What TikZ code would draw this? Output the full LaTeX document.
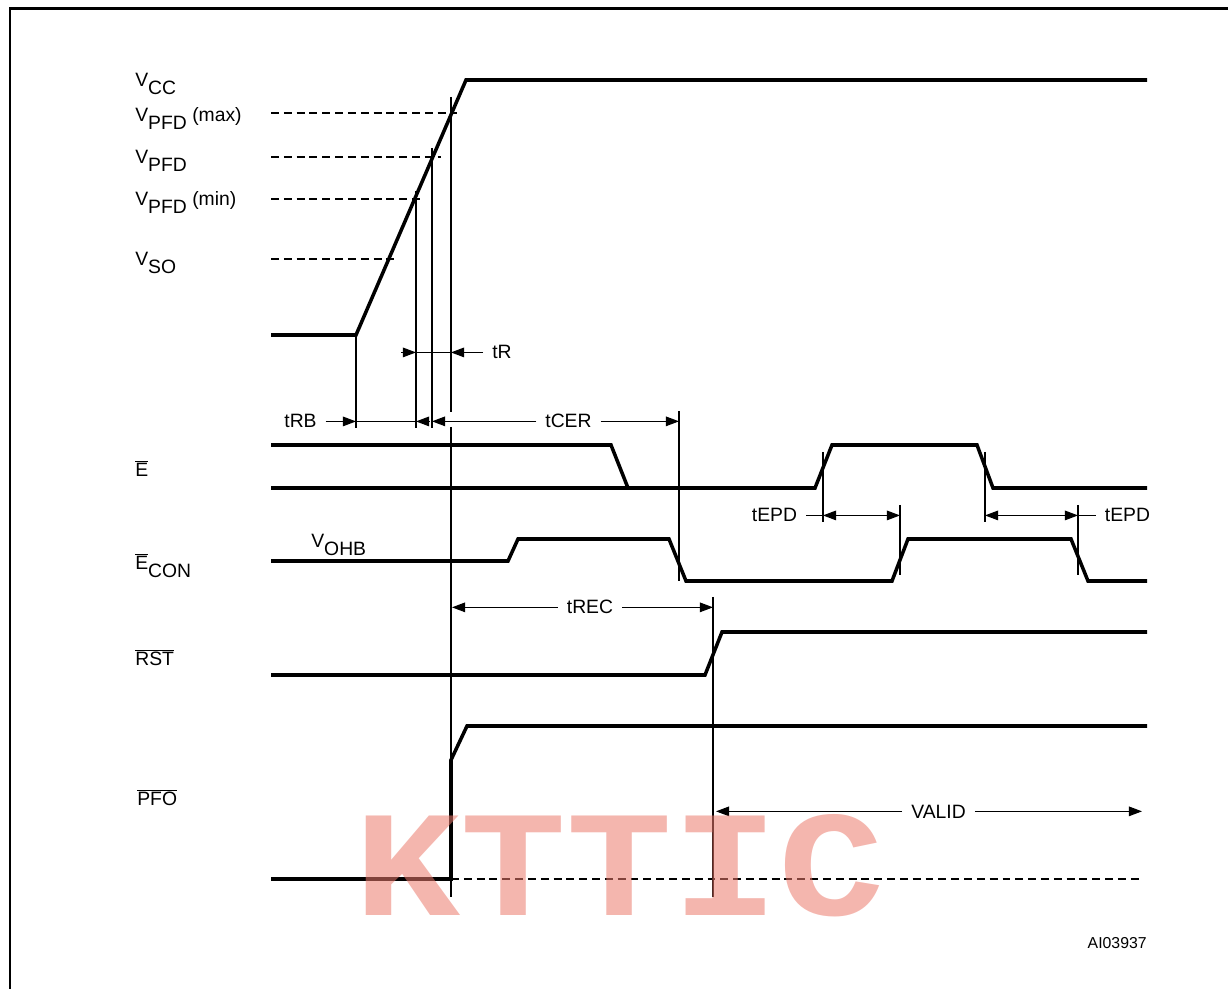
\documentclass[tikz,border=0pt]{standalone}
\usepackage{fontspec}
\setmainfont{Liberation Sans}
\setmonofont{Liberation Mono}
\usetikzlibrary{arrows.meta}

\newcommand{\sbs}[1]{\raisebox{-4pt}{#1}}
\newcommand{\ovl}[1]{$\overline{\mbox{#1}}$}
\definecolor{wmred}{RGB}{235,122,108}

\begin{document}
\begin{tikzpicture}[x=0.02cm,y=-0.02cm,
        sig/.style={line width=2pt},
        guide/.style={line width=0.6pt},
        lvl/.style={line width=0.6pt,dash pattern=on 4.5pt off 2.8pt},
        dim/.style={line width=0.6pt,-{Triangle[length=7.5pt,width=5.5pt]}},
        dimb/.style={line width=0.6pt,{Triangle[length=7.5pt,width=5.5pt]}-{Triangle[length=7.5pt,width=5.5pt]}},
        lbl/.style={font=\fontsize{11}{13}\selectfont,inner sep=0pt,anchor=base west},
        dimlbl/.style={font=\fontsize{11}{13}\selectfont,inner xsep=5pt,inner ysep=0pt,anchor=base}
    ]
    \useasboundingbox (0,0) rectangle (1228,989);
    \draw[line width=1.7pt] (10,989) -- (10,9) -- (1228,9);

    % supply
    \node[lbl] (vcc) at (135,87) {V\sbs{CC}};
    \node[lbl] (vmax) at (135,122) {V\sbs{PFD} (max)};
    \node[lbl] (vpfd) at (135,164) {V\sbs{PFD}};
    \node[lbl] (vmin) at (135,206) {V\sbs{PFD} (min)};
    \node[lbl] (vso) at (135,266) {V\sbs{SO}};
    \coordinate (rb) at (356,335);
    \coordinate (rt) at (466,80);
    \coordinate (tmin) at (416,191);
    \coordinate (tpfd) at (432,148);
    \coordinate (tmax) at (451,97);
    \coordinate (tcr) at (679,411);
    \coordinate (trc) at (713,597);
    \draw[sig] (271,335) -- (rb) -- (rt) -- (1147,80);
    \draw[lvl] (271,113) -- (457,113);
    \draw[lvl] (271,157) -- (441,157);
    \draw[lvl] (271,199) -- (421,199);
    \draw[lvl] (271,259) -- (397,259);
    \draw[guide] (rb) -- (356,428);
    \draw[guide] (tmin) -- (416,428);
    \draw[guide] (tpfd) -- (432,428);
    \draw[guide] (tmax) -- (451,412);
    \draw[guide] (451,427) -- (451,897);

    % tR
    \node[dimlbl] (tr) at (502,359) {tR};
    \draw[dim] (tr.west -| 401,0) -- (tr.west -| tmin);
    \draw[guide] (tr.west -| tmin) -- (tr.west -| tmax);
    \draw[dim] (tr.west) -- (tr.west -| tmax);

    % tRB, tCER
    \node[dimlbl] (trb) at (300.5,428) {tRB};
    \node[dimlbl] (tcer) at (568.5,428) {tCER};
    \draw[dim] (trb.east) -- (trb.east -| rb);
    \draw[guide] (trb.east -| rb) -- (trb.east -| tmin);
    \draw[dim] (trb.east -| 429,0) -- (trb.east -| tmin);
    \draw[dim] (tcer.west) -- (tcer.west -| tpfd);
    \draw[dim] (tcer.east) -- (tcer.east -| tcr);
    \draw[guide] (tcr) -- (679,581);

    % E
    \node[lbl] (e) at (135,477) {\ovl{E}};
    \draw[sig] (271,445) -- (611,445) -- (628,488);
    \draw[sig] (271,488) -- (815,488) -- (832,445) -- (977,445) -- (993,488) -- (1147,488);

    % tEPD
    \node[dimlbl] (epda) at (774.5,522) {tEPD};
    \node[dimlbl] (epdb) at (1127.5,522) {tEPD};
    \coordinate (ea) at (823,452);
    \coordinate (eb) at (900,505);
    \coordinate (ec) at (985,452);
    \coordinate (ed) at (1078,505);
    \draw[guide] (ea) -- (823,522);
    \draw[guide] (eb) -- (900,575);
    \draw[guide] (ec) -- (985,522);
    \draw[guide] (ed) -- (1078,575);
    \draw[guide] (epda.east) -- (epda.east -| ea);
    \draw[dimb] (epda.east -| ea) -- (epda.east -| eb);
    \draw[dimb] (epdb.west -| ec) -- (epdb.west -| ed);
    \draw[guide] (epdb.west) -- (epdb.west -| ed);

    % E_CON
    \node[lbl] (econ) at (135,570) {\ovl{E}\sbs{CON}};
    \node[lbl] (vohb) at (311,548) {V\sbs{OHB}};
    \draw[sig] (271,561) -- (508,561) -- (518,539) -- (669,539) -- (686,581) -- (892,581)
        -- (908,539) -- (1071,539) -- (1088,581) -- (1147,581);

    % tREC, RST
    \node[dimlbl] (trec) at (590,614) {tREC};
    \draw[dim] (trec.west) -- (trec.west -| 452,0);
    \draw[dim] (trec.east) -- (trec.east -| trc);
    \draw[guide] (trc) -- (713,897);
    \node[lbl] (rst) at (135,666) {\ovl{RST}};
    \draw[sig] (271,675) -- (705,675) -- (722,632) -- (1147,632);

    % PFO
    \node[lbl] (pfo) at (137,806) {\ovl{PFO}};
    \draw[sig] (271,879) -- (451,879) -- (451,760) -- (467,726) -- (1147,726);
    \draw[lvl] (451,879) -- (1143,879);
    \node[dimlbl] (valid) at (938.5,818) {VALID};
    \draw[dim] (valid.west) -- (valid.west -| 716,0);
    \draw[dim] (valid.east) -- (valid.east -| 1142,0);

    \node[font=\fontsize{9}{11}\selectfont,inner sep=0pt,anchor=base east] (fig) at (1147,948) {AI03937};
    \node[font=\fontsize{86}{86}\selectfont\ttfamily\bfseries,text=wmred,text opacity=0.55,
        inner sep=0pt,anchor=base west] (wm) at (354,915) {\scalebox{1.17}[1]{KTTIC}};
\end{tikzpicture}
\end{document}
